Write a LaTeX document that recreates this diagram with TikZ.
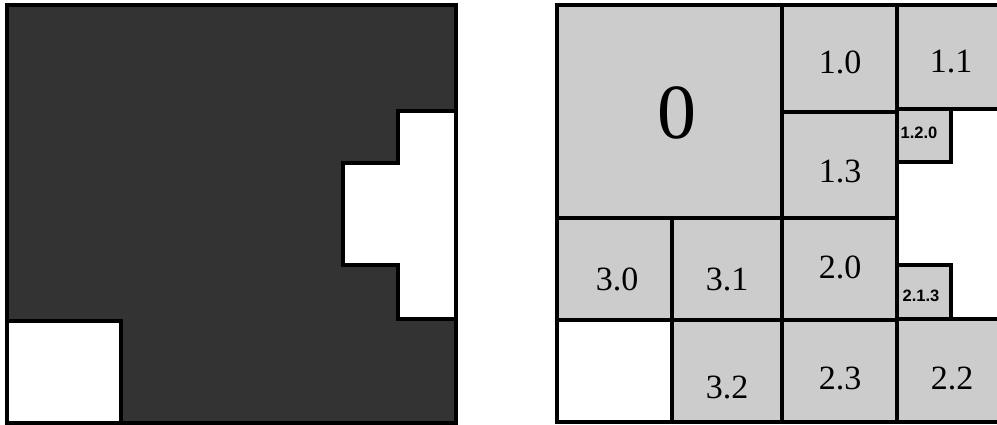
\documentclass[tikz,border=0pt]{standalone}
\usepackage{fontspec}
\setmainfont{Liberation Serif}
\newfontfamily\smallsans{Liberation Sans}
\definecolor{darkfill}{HTML}{333333}
\definecolor{cellfill}{HTML}{CCCCCC}
\tikzset{
  edge/.style={draw=black, line width=3.3pt, line join=miter},
  cellbox/.style={fill=cellfill, draw=black, line width=3.3pt},
  holebox/.style={fill=white, draw=black, line width=3.3pt},
  lbl/.style={inner sep=0pt, font=\fontsize{34}{34}\selectfont},
  biglbl/.style={inner sep=0pt, font=\fontsize{78}{78}\selectfont},
  tinylbl/.style={inner sep=0pt, font=\smallsans\bfseries\fontsize{16.5}{16.5}\selectfont},
}
\begin{document}
\begin{tikzpicture}[x=1pt, y=-1pt]
\useasboundingbox (0,0) rectangle (997,425);
\clip (0,0) rectangle (997,425);
% ---------- left panel ----------
\fill[darkfill] (7,5) rectangle (456,423);
\filldraw[holebox] (398,111) -- (456,111) -- (456,319) -- (398,319) -- (398,265)
   -- (343,265) -- (343,163) -- (398,163) -- cycle;
\filldraw[holebox] (7,321) rectangle (121,423);
\draw[edge] (7,5) rectangle (456,423);
% ---------- right panel ----------
\filldraw[cellbox] (557,5) rectangle (782,218);
\filldraw[cellbox] (782,5) rectangle (897,112);
\filldraw[cellbox] (897,5) rectangle (1006,109);
\filldraw[cellbox] (897,109) rectangle (951,162);
\filldraw[cellbox] (782,112) rectangle (897,218);
\filldraw[cellbox] (557,218) rectangle (672,320);
\filldraw[cellbox] (672,218) rectangle (782,320);
\filldraw[cellbox] (782,218) rectangle (897,320);
\filldraw[cellbox] (897,265) rectangle (951,320);
\filldraw[holebox] (557,320) rectangle (672,422);
\filldraw[cellbox] (672,320) rectangle (782,422);
\filldraw[cellbox] (782,320) rectangle (897,422);
\filldraw[cellbox] (897,319) rectangle (1006,422);
\draw[edge] (557,5) -- (1006,5);
\draw[edge] (557,5) -- (557,422) -- (1006,422);
% ---------- labels ----------
\node[biglbl] (l0) at (677,113) {0};
\node[lbl] (l10) at (840,62) {1.0};
\node[lbl] (l11) at (951,62) {1.1};
\node[lbl] (l13) at (840,171) {1.3};
\node[tinylbl] (l120) at (919,133) {1.2.0};
\node[lbl] (l30) at (617,279) {3.0};
\node[lbl] (l31) at (727,279) {3.1};
\node[lbl] (l20) at (840,267) {2.0};
\node[tinylbl] (l213) at (921,296) {2.1.3};
\node[lbl] (l32) at (727,387) {3.2};
\node[lbl] (l23) at (840,378) {2.3};
\node[lbl] (l22) at (952,378) {2.2};
\end{tikzpicture}
\end{document}
